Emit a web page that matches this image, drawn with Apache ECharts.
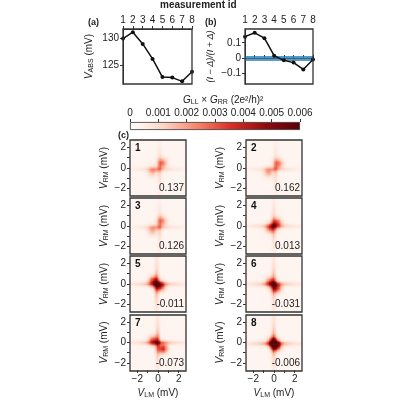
<!DOCTYPE html><html><head><meta charset="utf-8">
<script src="https://cdn.jsdelivr.net/npm/echarts@6/dist/echarts.min.js"></script>
<style>html,body{margin:0;background:#fff}#c{width:400px;height:400px}</style></head><body><div id="c"></div>
<script>
const ids=[1,2,3,4,5,6,7,8];
const vAbs=[130.0,131.2,129.0,126.2,122.8,122.7,122.0,123.8];
const ratio=[0.14,0.165,0.13,0.015,-0.015,-0.03,-0.075,-0.01];
const cbTicks=[0,0.001,0.002,0.003,0.004,0.005,0.006];
const panelNames=['1','2','3','4','5','6','7','8'];
const panelVals=['0.137','0.162','0.126','0.013','-0.011','-0.031','-0.073','-0.006'];
// blobs per panel: [x,y,amp]
const blobs=[
 [[0.45,0.5,0.0022],[-0.5,-0.3,0.0015]],
 [[0.45,0.45,0.0022],[-0.5,-0.4,0.0016]],
 [[0.4,0.5,0.002],[-0.5,-0.4,0.0015]],
 [[0.3,0.3,0.003],[-0.3,-0.2,0.0025]],
 [[-0.4,0.3,0.0034],[0.2,-0.2,0.0038]],
 [[-0.3,0.2,0.0028],[0.25,-0.35,0.0036]],
 [[-0.4,0.2,0.003],[0.5,-0.6,0.0034]],
 [[0.2,-0.3,0.0058],[-0.1,0.1,0.0035]]];
const armAmp=[0.0012,0.0012,0.0012,0.0018,0.0025,0.0024,0.0025,0.0028];
const armPos=[[0.2,-0.1],[0.2,-0.1],[0.2,-0.1],[0,0],[-0.1,0],[0,0],[0,0],[0,-0.1]];
const N=41,R=2.7;
const cats=[];for(let i=0;i<N;i++)cats.push(i);
function grid(p){const d=[];for(let i=0;i<N;i++)for(let j=0;j<N;j++){const x=-R+i*2*R/(N-1),y=-R+j*2*R/(N-1);let v=0.0003;
 for(const b of blobs[p]){v+=b[2]*Math.exp(-((x-b[0])**2+(y-b[1])**2)/(2*0.33*0.33));}
 const a=armAmp[p],xv=armPos[p][0],yh=armPos[p][1];
 v+=a*Math.exp(-((x-xv)**2)/(2*0.15*0.15))*Math.exp(-Math.abs(y)/1.4);
 v+=a*Math.exp(-((y-yh)**2)/(2*0.15*0.15))*Math.exp(-Math.abs(x)/1.4);
 d.push([i,j,v]);}return d;}
const colors=['#ffffff','#fcd5c4','#f6836a','#d92b22','#8e0b0f','#5a0008'];
const ch=echarts.init(document.getElementById('c'));
const F='Liberation Sans';
const tx={fontFamily:F,fontSize:10,color:'#222'};
const rich={i:{fontStyle:'italic',fontFamily:F,fontSize:10,color:'#222'},s:{fontFamily:F,fontSize:7,color:'#222',verticalAlign:'bottom',padding:[4,0,0,0]},n:{fontFamily:F,fontSize:10,color:'#222'}};
const ax={lineStyle:{color:'#333'}};
const tk={show:true,length:3,lineStyle:{color:'#333'}};
const grids=[],xA=[],yA=[],series=[],graphic=[];
const frame=(l,t,w,h)=>graphic.push({type:'rect',z:100,silent:true,shape:{x:l,y:t,width:w,height:h},style:{fill:'none',stroke:'#333',lineWidth:1.3}});
// panel a
grids.push({left:123,top:29,width:69,height:55});frame(123,29,69,55);
xA.push({type:'value',gridIndex:0,position:'top',min:1,max:8,interval:1,axisLine:ax,axisTick:tk,axisLabel:{...tx,margin:4},splitLine:{show:false}});
yA.push({type:'value',gridIndex:0,min:121.5,max:131.8,axisLine:{show:true,...ax},axisTick:{...tk,customValues:[125,130]},axisLabel:{...tx,margin:4,customValues:[125,130]},splitLine:{show:false},
 name:'{i|V}{s|ABS}{n| (mV)}',nameLocation:'middle',nameGap:28,nameTextStyle:{rich}});
series.push({type:'line',xAxisIndex:0,yAxisIndex:0,data:ids.map((x,i)=>[x,vAbs[i]]),symbol:'circle',symbolSize:4,lineStyle:{color:'#111',width:1.5},itemStyle:{color:'#111'}});
// panel b
grids.push({left:245,top:29,width:68,height:55});frame(245,29,68,55);
xA.push({type:'value',gridIndex:1,position:'top',min:1,max:8,interval:1,axisLine:ax,axisTick:tk,axisLabel:{...tx,margin:4},splitLine:{show:false}});
yA.push({type:'value',gridIndex:1,min:-0.17,max:0.19,axisLine:{show:true,...ax},axisTick:{...tk,customValues:[-0.1,0,0.1]},axisLabel:{...tx,margin:4,customValues:[-0.1,0,0.1],formatter:v=>v===0?'0':(v<0?'−'+(-v).toFixed(1):v.toFixed(1))},splitLine:{show:false},
 name:'(I − Δ)/(I + Δ)',nameLocation:'middle',nameGap:30,nameTextStyle:{...tx,fontStyle:'italic',fontSize:9}});
series.push({type:'line',xAxisIndex:1,yAxisIndex:1,data:ids.map((x,i)=>[x,ratio[i]]),symbol:'circle',symbolSize:4,lineStyle:{color:'#111',width:1.5},itemStyle:{color:'#111'},z:5,
 markArea:{silent:true,itemStyle:{color:'rgba(120,180,220,0.35)'},data:[[{yAxis:-0.01},{yAxis:0.01}]]},
 markLine:{silent:true,symbol:'none',label:{show:false},lineStyle:{color:'#1f7fc0',width:1.5,type:'solid'},data:[{yAxis:0.01},{yAxis:-0.01}]}});
// colorbar
grids.push({left:130,top:122,width:170,height:8});
xA.push({type:'value',gridIndex:2,position:'top',min:0,max:0.006,interval:0.001,axisLine:ax,axisTick:tk,axisLabel:{...tx,margin:4,formatter:v=>v===0?'0':v.toFixed(3)},splitLine:{show:false}});
yA.push({type:'category',gridIndex:2,data:['c'],show:false});
series.push({type:'bar',xAxisIndex:2,yAxisIndex:2,data:[0.006],barWidth:'100%',itemStyle:{borderColor:'#333',borderWidth:0.8,color:new echarts.graphic.LinearGradient(0,0,1,0,colors.map((c,i)=>({offset:i/(colors.length-1),color:c})))}});
// heatmaps
const colX=[130,246],rowY=[140,198,256,315];
const hmIdx=[];
const fmt=v=>v<0?'−'+(-v):String(v);
for(let p=0;p<8;p++){
 const gi=grids.length,l=colX[p%2],t=rowY[Math.floor(p/2)];
 grids.push({left:l,top:t,width:56,height:56});frame(l,t,56,56);
 const xi=xA.length,yi=yA.length;
 xA.push({type:'category',gridIndex:gi,data:cats,show:false});
 yA.push({type:'category',gridIndex:gi,data:cats,show:false});
 const bottom=p>=6;
 xA.push({type:'value',gridIndex:gi,min:-R,max:R,position:'bottom',axisLine:{show:false},axisTick:{...tk,show:bottom,customValues:[-2,-1,0,1,2]},axisLabel:{show:bottom,...tx,margin:4,customValues:[-2,0,2],formatter:fmt},splitLine:{show:false},
  name:bottom?'{i|V}{s|LM}{n| (mV)}':'',nameLocation:'middle',nameGap:18,nameTextStyle:{rich}});
 yA.push({type:'value',gridIndex:gi,position:'left',min:-R,max:R,axisLine:{show:false},axisTick:{...tk,customValues:[-2,-1,0,1,2]},axisLabel:{...tx,margin:4,customValues:[-2,0,2],formatter:fmt},splitLine:{show:false},
  name:'{i|V}{s|RM}{n| (mV)}',nameLocation:'middle',nameGap:20,nameTextStyle:{rich}});
 hmIdx.push(series.length);
 series.push({type:'heatmap',xAxisIndex:xi,yAxisIndex:yi,data:grid(p)});
 series.push({type:'line',xAxisIndex:xi+1,yAxisIndex:yi+1,data:[],silent:true});
 graphic.push({type:'text',z:101,left:l+5,top:t+3,style:{text:panelNames[p],font:'bold 10px '+F,fill:'#111'}});
 graphic.push({type:'text',z:101,right:400-(l+54),top:t+43,style:{text:panelVals[p],font:'10px '+F,fill:'#222'}});
}
graphic.push({type:'text',left:160,top:0,style:{text:'measurement id',font:'bold 10px '+F,fill:'#222'}});
graphic.push({type:'text',left:88,top:18,style:{text:'(a)',font:'bold 9px '+F,fill:'#222'}});
graphic.push({type:'text',left:205,top:18,style:{text:'(b)',font:'bold 9px '+F,fill:'#222'}});
graphic.push({type:'text',left:118,top:131,style:{text:'(c)',font:'bold 9px '+F,fill:'#222'}});
graphic.push({type:'text',left:183,top:95,style:{rich:{a:{fontFamily:F,fontSize:10,fontStyle:'italic',fill:'#222'},b:{fontFamily:F,fontSize:7,fill:'#222',padding:[4,0,0,0]},c:{fontFamily:F,fontSize:10,fill:'#222'}},text:'{a|G}{b|LL}{c| × }{a|G}{b|RR}{c| (2e²/h)²}'}});
ch.setOption({animation:false,grid:grids,xAxis:xA,yAxis:yA,series,graphic,
 visualMap:{show:false,min:0,max:0.006,seriesIndex:hmIdx,inRange:{color:colors}}});
</script></body></html>
